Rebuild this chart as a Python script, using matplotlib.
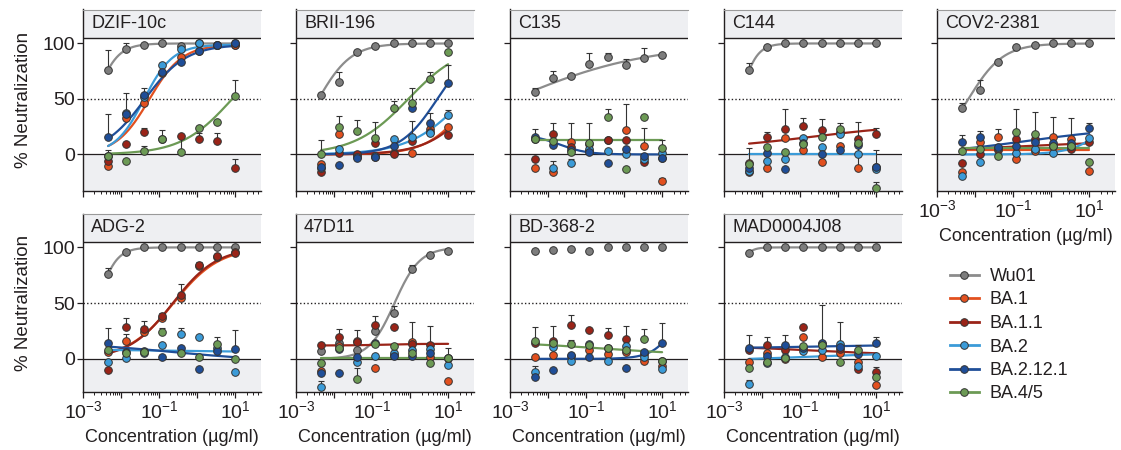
import numpy as np
import matplotlib.pyplot as plt
import matplotlib.transforms as mtransforms
from matplotlib.lines import Line2D
from matplotlib.ticker import LogLocator, FuncFormatter, NullFormatter

plt.rcParams['font.family'] = ['Liberation Sans', 'DejaVu Sans']
plt.rcParams['mathtext.fontset'] = 'custom'
plt.rcParams['mathtext.rm'] = 'Liberation Sans'
plt.rcParams['mathtext.it'] = 'Liberation Sans:italic'
plt.rcParams['axes.unicode_minus'] = False

# 3-fold dilution series (ug/ml)
conc = np.array([0.00457, 0.0137, 0.0412, 0.123, 0.370, 1.11, 3.33, 10.0])

variants = ["Wu01", "BA.1", "BA.1.1", "BA.2", "BA.2.12.1", "BA.4/5"]
colors = {"Wu01": "#7d7d7d", "BA.1": "#e2501f", "BA.1.1": "#9a2418",
          "BA.2": "#3b9bd8", "BA.2.12.1": "#1f4e98", "BA.4/5": "#6c9a55"}
line_colors = dict(colors, Wu01="#8c8c8c")

# fitted curves are (bottom, top, EC50, hill)

# ---- DZIF-10c
dzif_pts = {"Wu01": [76, 95, 99, 100, 98, 100, 99, 98.5],
            "BA.1": [-10, 33, 46, 73, 88, 93, 99, 99],
            "BA.1.1": [-6, 9, 20, 14, 17, 14, 12, -12],
            "BA.2": [-1, 37, 52, 81, 95, 100, 99, 100],
            "BA.2.12.1": [16, 36, 54, 74, 83, 93, 99, 100],
            "BA.4/5": [-1, -6, 3, 14, 2, 24, 29, 53]}
dzif_err = {"Wu01": [18, 5, 0, 0, 0, 0, 0, 0],
            "BA.1.1": [0, 0, 4, 8, 0, 5, 7, 8],
            "BA.2.12.1": [20, 19, 6, 0, 0, 0, 0, 0],
            "BA.4/5": [5, 0, 5, 0, 15, 2, 0, 14]}
dzif_fit = {"Wu01": (0, 100, 0.0021, 1.5), "BA.1": (0, 99, 0.055, 1.0),
            "BA.2": (0, 99, 0.040, 1.15), "BA.2.12.1": (0, 99, 0.042, 0.8),
            "BA.4/5": (0, 100, 8.4, 0.65)}

# ---- BRII-196
brii_pts = {"Wu01": [54, 65.5, 92.5, 98, 100, 100, 100, 100],
            "BA.1": [-8.4, 18, -1.5, -2.7, 1, 1.5, 23, 25],
            "BA.1.1": [-16, 1.5, 0, 10, 0.3, 12, 20, 17.4],
            "BA.2": [-12, 5, -2, -1, 13.5, 16, 19.5, 35.4],
            "BA.2.12.1": [-11, -9.3, -3, -2.7, 8, 42, 28.5, 64],
            "BA.4/5": [0, 25, 21, 15, 42, 46, 68, 92.5]}
brii_err = {"Wu01": [0, 8.5, 0, 0, 0, 0, 0, 0],
            "BA.2": [0, 0, 0, 0, 0, 14, 0, 5],
            "BA.2.12.1": [0, 0, 0, 0, 0, 0, 9, 17],
            "BA.4/5": [13, 10, 10, 14, 6, 14, 6, 0]}
brii_fit = {"Wu01": (0, 100, 0.0039, 1.0), "BA.4/5": (0, 100, 0.9, 0.61),
            "BA.2.12.1": (0, 100, 5.2, 0.89), "BA.2": (0, 100, 27, 0.6),
            "BA.1": (0, 100, 40, 0.8), "BA.1.1": (0, 100, 60, 0.7)}

# ---- C135
c135_pts = {"Wu01": [56.5, 68.5, 71, 81.4, 88, 80.8, 86.8, 90],
            "BA.1": [-12, -16, 11.4, 3.3, 13, 22, 7.8, -24],
            "BA.1.1": [-4, 18.3, 7, 9.3, 13, 13, -6.6, -3.6],
            "BA.2": [14, -12, -8, 5, 3.3, 0, -4.5, 1],
            "BA.2.12.1": [16, 8.4, 4, 2, -8, 5, -1.5, -3.6],
            "BA.4/5": [13.5, 12, 1.8, 10.5, 34, -13, 34, 6]}
c135_err = {"Wu01": [3.5, 6.5, 0, 10, 3, 5, 9, 0],
            "BA.1": [0, 0, 17, 0, 0, 23, 16, 3],
            "BA.1.1": [0, 10, 0, 19, 0, 0, 0, 0],
            "BA.2": [0, 6, 4, 0, 0, 0, 0, 0],
            "BA.2.12.1": [7, 0, 0, 0, 0, 0, 0, 0],
            "BA.4/5": [0, 0, 0, 0, 7, 0, 0, 7]}
c135_fit = {"Wu01": (0, 100, 0.0012, 0.244), "BA.2.12.1": (18, 0, 0.02, 1.2),
            "BA.4/5": (13, 13, 1, 1)}

# ---- C144
c144_pts = {"Wu01": [75.7, 96.7, 100, 100, 100, 100, 100, 100],
            "BA.1": [-8, -12.6, 15, 4, -6.6, 7.8, -12, -11],
            "BA.1.1": [-16, 16, 22.8, 25.8, 22, 20, 13.5, 18.6],
            "BA.2": [-14.7, -5.7, -4.2, 14.4, 6.6, 18.3, 0, -13.5],
            "BA.2.12.1": [-12.6, 1.5, -13, 10, 0, 4, 8.4, -11],
            "BA.4/5": [-9, 7, 1.8, 9.3, 15.3, 22.5, 10, -30]}
c144_err = {"Wu01": [6.3, 0, 0, 0, 0, 0, 0, 0],
            "BA.1": [14, 0, 0, 0, 0, 0, 25, 0],
            "BA.1.1": [0, 4, 18, 6.6, 10, 8, 16, 5],
            "BA.2.12.1": [0, 0, 0, 0, 0, 0, 0, 15],
            "BA.4/5": [0, 0, 0, 0, 0, 0, 0, 5]}
c144_fit = {"Wu01": (0, 100, 0.0026, 2.0), "BA.1.1": (4, 28, 0.215, 0.3),
            "BA.2": (0, 0, 1, 1)}

# ---- COV2-2381
cov2_pts = {"Wu01": [41.4, 58, 83.5, 96.4, 99, 100, 100, 100],
            "BA.1": [-16, 10.8, 15.3, -4.2, 3, 15.3, 13.8, -14.7],
            "BA.1.1": [-8, 0, 4, 13.8, 13.8, 7.8, 4.8, 11.4],
            "BA.2": [-19, -7.2, 6, 1, 5, 1, 8, 14.4],
            "BA.2.12.1": [10.8, 16, 7, 8, 11.4, 10, 10, 23.4],
            "BA.4/5": [3.3, 5, -1.2, 19.8, 18, 8, 7.8, -7.2]}
cov2_err = {"Wu01": [5, 9, 0, 0, 0, 0, 0, 0],
            "BA.1": [0, 0, 8, 0, 0, 18.7, 18.6, 0],
            "BA.2.12.1": [6.6, 5, 0, 0, 0, 0, 0, 4.6],
            "BA.4/5": [0, 0, 0, 21, 20, 0, 0, 0]}
cov2_fit = {"Wu01": (0, 100, 0.0067, 0.95), "BA.2.12.1": (-1.5, 25.5, 0.215, 0.3),
            "BA.1.1": (2.7, 12.3, 0.215, 0.3), "BA.2": (0, 100, 83, 0.9),
            "BA.1": (4, 4, 1, 1), "BA.4/5": (5.5, 5.5, 1, 1)}

# ---- ADG-2
adg2_pts = {"Wu01": [76, 95.8, 100, 100, 100, 100, 100, 100],
            "BA.1": [6, 16, 24.5, 36.5, 54.5, 83, 91, 95.8],
            "BA.1.1": [-10, 28.4, 26.6, 38, 57.5, 84.4, 92, 95],
            "BA.2": [-3, 1.2, 5.7, 12, 22.5, 19.5, 9.6, -11.4],
            "BA.2.12.1": [14, 6.6, 7, 2, 10, -9, 7, 9],
            "BA.4/5": [8, 5, 6.6, 24, 5, 1.5, 13.5, 0]}
adg2_err = {"Wu01": [5.4, 0, 0, 0, 0, 0, 0, 0],
            "BA.1": [0, 6, 4, 0, 5, 0, 2, 0],
            "BA.1.1": [0, 8, 7.8, 3, 9.5, 2.6, 1, 0],
            "BA.2": [0, 0, 0, 0, 5, 0, 0, 0],
            "BA.2.12.1": [13.5, 0, 0, 0, 0, 0, 0, 17],
            "BA.4/5": [0, 0, 0, 4, 0, 0, 6.5, 0]}
adg2_fit = {"Wu01": (0, 100, 0.0024, 1.78), "BA.1": (0, 100, 0.24, 0.72),
            "BA.1.1": (0, 100, 0.23, 0.75), "BA.2.12.1": (15.4, -2.9, 0.215, 0.3),
            "BA.2": (8.65, 5.95, 0.215, 0.3)}

# ---- 47D11
d47_pts = {"Wu01": [7, 14, 8, 25.4, 41, 80.5, 92.8, 96.4],
           "BA.1": [-10.5, 11.7, 15.6, -8.4, 3.6, 14.7, 1.5, -19.8],
           "BA.1.1": [12, 20, 15, 30, 28.4, 13, 12, 0.6],
           "BA.2": [-24.8, 8.7, -2.4, 3, 5, 8, 9, -5.4],
           "BA.2.12.1": [-12.9, -12.9, 2, 14, 2.7, 3, 5, 1],
           "BA.4/5": [-3.3, 10, -18.3, 13.2, 11.7, 5, -3.3, 1]}
d47_err = {"Wu01": [0, 0, 0, 0, 6.6, 4, 0, 0],
           "BA.1": [0, 0, 10.4, 0, 0, 18.8, 0, 0],
           "BA.1.1": [0, 6.6, 0, 8.6, 0, 0, 17.6, 9],
           "BA.2": [4.8, 0, 0, 0, 0, 0, 0, 0],
           "BA.4/5": [0, 0, 10.5, 0, 0, 0, 0, 0]}
d47_fit = {"Wu01": (0, 100, 0.39, 1.3), "BA.1.1": (12, 13.5, 0.215, 1),
           "BA.4/5": (1, 1, 1, 1)}

# ---- BD-368-2
bd_pts = {"Wu01": [97, 98, 98.8, 97, 100, 100, 100, 100],
          "BA.1": [2, 3.6, 2.7, 8, 4.5, 6, -1.5, -6],
          "BA.1.1": [14, 16, 30.5, 26, 21.5, 17.7, 4, -2],
          "BA.2": [-11.4, 10.5, -1.8, 13.2, -1.8, 11.7, 2, -9.3],
          "BA.2.12.1": [-15.9, -10, 3.6, 2, 9.6, -7.8, 6.6, 14],
          "BA.4/5": [15.6, 14, 13.2, 12, 10, 8, 17.7, -1.8]}
bd_err = {"BA.1.1": [0, 13.6, 9, 0, 6.5, 12, 0, 0],
          "BA.2": [5, 0, 0, 0, 0, 0, 0, 0],
          "BA.2.12.1": [0, 0, 0, 0, 0, 0, 0, 18],
          "BA.4/5": [13.4, 0, 4, 0, 0, 0, 9, 0]}
bd_fit = {"BA.2.12.1": (0, 100, 40, 1.3), "BA.4/5": (16.25, 2.75, 0.215, 0.3)}

# ---- MAD0004J08
mad_pts = {"Wu01": [95, 100, 100, 100, 100, 100, 100, 100],
           "BA.1": [-3, 5, 0, 20, 2, 5, -3, -23.4],
           "BA.1.1": [8, 12, 8, 29, 13.5, 9, -9.3, -11.4],
           "BA.2": [-22.8, -4, 2, 7, 8, 13, -6, 3],
           "BA.2.12.1": [10, 3, 12.3, 10, 14, 11, 4.5, 14],
           "BA.4/5": [-7.8, -2.4, 1.2, 11.7, 12, -3, 8, -16]}
mad_err = {"BA.1.1": [0, 8, 0, 0, 34.5, 24, 0, 4],
           "BA.2": [4, 0, 0, 0, 0, 0, 0, 0],
           "BA.2.12.1": [11.5, 0, 8.7, 0, 0, 0, 7.5, 5.5]}
mad_fit = {"Wu01": (0, 100, 0.0017, 3), "BA.2.12.1": (9.1, 12.9, 0.215, 0.3),
           "BA.1.1": (12.3, 2.7, 0.215, 0.3), "BA.2": (-1.85, 5.85, 0.215, 0.3)}

panels = [("DZIF-10c", dzif_pts, dzif_err, dzif_fit),
          ("BRII-196", brii_pts, brii_err, brii_fit),
          ("C135", c135_pts, c135_err, c135_fit),
          ("C144", c144_pts, c144_err, c144_fit),
          ("COV2-2381", cov2_pts, cov2_err, cov2_fit),
          ("ADG-2", adg2_pts, adg2_err, adg2_fit),
          ("47D11", d47_pts, d47_err, d47_fit),
          ("BD-368-2", bd_pts, bd_err, bd_fit),
          ("MAD0004J08", mad_pts, mad_err, mad_fit)]

TXT = '#231f20'
EDGE = '#333333'
SHADE = '#eeeff2'


def four_pl(x, p):
	bottom, top, ec50, hill = p
	return bottom + (top - bottom) / (1 + (ec50 / x) ** hill)


def dec_label(v, pos):
	e = int(round(np.log10(v)))
	if e % 2 == 0:
		return ''
	return r'$10^{%d}$' % e


W, H = 1121, 450
fig = plt.figure(figsize=(W / 100, H / 100), dpi=100)

lefts = [83, 296, 510, 724, 937]
rows = [(9.5, 190.5, -32.5, 130.6), (213.5, 392.3, -30, 130.4)]
xs = np.geomspace(conc[0], conc[-1], 300)

for k, (name, pts, errs, fits) in enumerate(panels):
	r, c = divmod(k, 5)
	top_px, bot_px, ylo, yhi = rows[r]
	ax = fig.add_axes([lefts[c] / W, 1 - bot_px / H, 178 / W, (bot_px - top_px) / H])
	ax.set_xscale('log')
	ax.set_xlim(1e-3, 48)
	ax.set_ylim(ylo, yhi)

	ax.axhspan(ylo, 0, color=SHADE, lw=0, zorder=0)
	ax.axhspan(105, yhi, color=SHADE, lw=0, zorder=0)
	ax.axhline(105, color=TXT, lw=1.0, zorder=1)
	ax.axhline(0, color=TXT, lw=0.9, zorder=1)
	ax.axhline(50, color=TXT, lw=1.0, ls=(0, (1, 1.6)), zorder=1)
	trans = mtransforms.blended_transform_factory(ax.transAxes, ax.transData)
	ax.text(0.045, 117.8, name, transform=trans, fontsize=13, color=TXT,
	        va='center', ha='left')

	ax.spines['right'].set_visible(False)
	ax.spines['top'].set_color('#9a9a9a')
	ax.spines['top'].set_linewidth(0.8)
	for sp in ('left', 'bottom'):
		ax.spines[sp].set_color(TXT)
		ax.spines[sp].set_linewidth(1.0)

	ax.set_yticks([0, 50, 100])
	ax.xaxis.set_major_locator(LogLocator(base=10, numticks=12))
	ax.xaxis.set_minor_locator(LogLocator(base=10, subs=np.arange(2, 10), numticks=12))
	ax.xaxis.set_minor_formatter(NullFormatter())
	ax.tick_params(which='major', direction='out', length=4, width=0.9,
	               colors=TXT, labelsize=14, pad=2)
	ax.tick_params(which='minor', direction='out', length=2.2, width=0.7, colors=TXT)

	if c == 0:
		ax.set_ylabel('% Neutralization', fontsize=13.5, color=TXT, labelpad=7)
	else:
		ax.set_yticklabels([])
	if r == 1 or c == 4:
		ax.xaxis.set_major_formatter(FuncFormatter(dec_label))
		ax.set_xlabel('Concentration (µg/ml)', fontsize=13, color=TXT, labelpad=5)
	else:
		ax.xaxis.set_major_formatter(NullFormatter())

	for v in variants:
		if v in fits:
			ax.plot(xs, four_pl(xs, fits[v]), color=line_colors[v], lw=1.6,
			        zorder=2, solid_capstyle='round')
	for v in variants:
		y = np.array(pts[v], dtype=float)
		if v in errs:
			e = np.array(errs[v], dtype=float)
			idx = np.nonzero(e)[0]
			ax.errorbar(conc[idx], y[idx], yerr=[np.zeros(len(idx)), e[idx]],
			            fmt='none', ecolor=EDGE, elinewidth=0.8, capsize=2.5,
			            capthick=0.8, zorder=3)
		ax.plot(conc, y, 'o', ms=5.5, mfc=colors[v], mec=EDGE, mew=0.7,
		        zorder=4, clip_on=False)

handles = [Line2D([0], [0], color=line_colors[v], lw=2, marker='o', ms=5.5,
                  mfc=colors[v], mec=EDGE, mew=0.7) for v in variants]
fig.legend(handles, variants, loc='upper left', bbox_to_anchor=(950 / W, 1 - 268 / H),
           frameon=False, fontsize=13, handlelength=1.6, handletextpad=0.6,
           labelspacing=0.36, borderpad=0, borderaxespad=0, labelcolor=TXT)

fig.savefig('out.png', dpi=100)
